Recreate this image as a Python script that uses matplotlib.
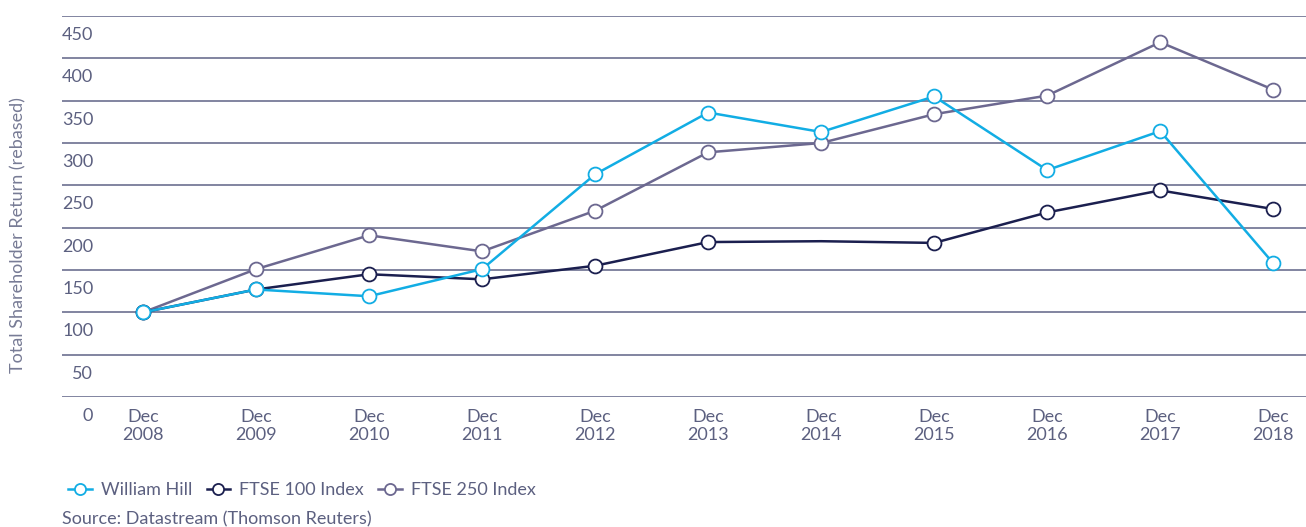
import matplotlib.pyplot as plt
from matplotlib.lines import Line2D

years = ['Dec\n2008', 'Dec\n2009', 'Dec\n2010', 'Dec\n2011', 'Dec\n2012', 'Dec\n2013',
         'Dec\n2014', 'Dec\n2015', 'Dec\n2016', 'Dec\n2017', 'Dec\n2018']
william_hill = [100, 127, 119, 151, 263, 336, 313, 355, 268, 314, 158]
ftse100 = [100, 127, 145, 139, 155, 183, 184, 182, 218, 244, 222]
ftse250 = [100, 151, 191, 172, 220, 289, 300, 334, 356, 419, 363]
yticks = [0, 50, 100, 150, 200, 250, 300, 350, 400, 450]

c_wh = '#12ade4'
c_100 = '#1b1f4f'
c_250 = '#6c6890'
c_text = '#5c6080'
c_grid = '#5f6386'

plt.rcParams['font.family'] = ['Lato', 'DejaVu Sans']

fig = plt.figure(figsize=(13.06, 5.27), dpi=100)
ax = fig.add_axes([62 / 1306, 130 / 527, 1 - 62 / 1306, (397 - 16) / 527])

x = list(range(len(years)))
mk = dict(marker='o', markersize=10, markerfacecolor='white', markeredgewidth=1.3, lw=1.8)
ax.plot(x, ftse250, color=c_250, markeredgecolor=c_250, zorder=3, **mk)
ax.plot(x, ftse100, color=c_100, markeredgecolor=c_100, zorder=4,
        markevery=[i for i in x if i != 6], **mk)
ax.plot(x, william_hill, color=c_wh, markeredgecolor=c_wh, zorder=5, **mk)

for v in yticks:
    ax.axhline(v, color=c_grid, lw=1.1, zorder=1)
    ax.text(-0.44, v - 22.5, str(v), ha='right', va='center', fontsize=13, color=c_text)

ax.set_xlim(-0.717, 10.29)
ax.set_ylim(0, 450)
ax.set_yticks([])
ax.set_xticks(x)
ax.set_xticklabels(years, fontsize=13, color=c_text, linespacing=1.15)
ax.tick_params(axis='x', length=0, pad=9)
for s in ax.spines.values():
    s.set_visible(False)

fig.text(18 / 1306, 1 - 235 / 527, 'Total Shareholder Return (rebased)', rotation=90,
         ha='center', va='center', fontsize=13, color='#777b95')

lmk = dict(marker='o', markersize=8, markerfacecolor='white', markeredgewidth=1.3, lw=1.8)
handles = [Line2D([], [], color=c, markeredgecolor=c, **lmk) for c in (c_wh, c_100, c_250)]
fig.legend(handles, ['William Hill', 'FTSE 100 Index', 'FTSE 250 Index'],
           loc='center left', bbox_to_anchor=(52 / 1306, 1 - 490 / 527), ncol=3,
           frameon=False, fontsize=13, labelcolor=c_text, handlelength=1.3,
           handletextpad=0.5, columnspacing=0.8)
fig.text(62 / 1306, 1 - 519 / 527, 'Source: Datastream (Thomson Reuters)', ha='left',
         va='center', fontsize=13, color=c_text)

fig.savefig('out.png', dpi=100)
